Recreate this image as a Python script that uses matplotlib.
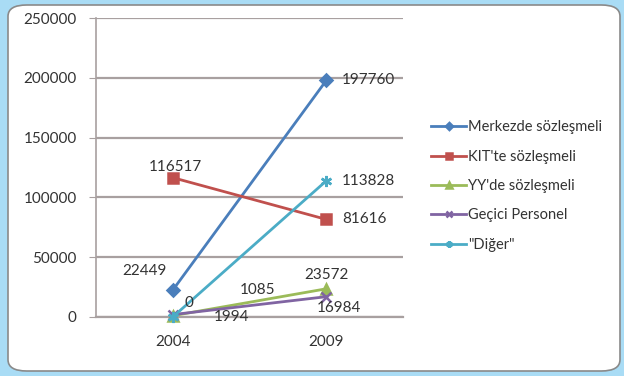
import matplotlib.pyplot as plt
from matplotlib.patches import FancyBboxPatch

# data
years = ["2004", "2009"]
series_names = ["Merkezde sözleşmeli", "KIT'te sözleşmeli", "YY'de sözleşmeli",
                "Geçici Personel", "\"Diğer\""]
merkez = [22449, 197760]
kit = [116517, 81616]
yy = [1085, 23572]
gecici = [1994, 16984]
diger = [0, 113828]

colors = ["#4a7ebb", "#c0504d", "#9bbb59", "#8064a2", "#4bacc6"]
markers = ["D", "s", "^", "x", (6, 2, 0)]
msizes = [6, 7, 7, 7, 8]
# label offsets in pixels (dx, dy) per point, plus horizontal alignment
label_pos = [
    [(-28, 19, "center"), (16, 0, "left")],
    [(3, 11, "center"), (16, 0, "left")],
    [(85, 26, "center"), (0, 14, "center")],
    [(59, -2, "center"), (13, -11, "center")],
    [(16, 14, "center"), (16, 0, "left")],
]

plt.rcParams["font.family"] = ["Lato", "DejaVu Sans"]
fig = plt.figure(figsize=(6.24, 3.76), dpi=100)
fig.patch.set_facecolor("#a9dcf5")
panel = FancyBboxPatch((8 / 624, 5 / 376), 612 / 624, 366 / 376,
                       boxstyle="round,pad=0,rounding_size=0.03",
                       transform=fig.transFigure, facecolor="white",
                       edgecolor="#8a8a8a", lw=1.2, zorder=-5)
fig.patches.append(panel)

ax = fig.add_axes([96 / 624, 59 / 376, 307 / 624, 299 / 376])
ax.set_facecolor("none")
x = range(len(years))
all_series = [merkez, kit, yy, gecici, diger]
for vals, name, c, m, ms, lp in zip(all_series, series_names, colors, markers, msizes, label_pos):
    ax.plot(x, vals, color=c, lw=2.0, marker=m, ms=ms, mew=1.8, label=name,
            clip_on=False, zorder=3)
    for xi, v, (dx, dy, ha) in zip(x, vals, lp):
        ax.annotate(str(v), (xi, v), xytext=(dx, dy), textcoords="offset pixels",
                    ha=ha, va="center", fontsize=11, color="#333333", zorder=4)

ax.set_xlim(-0.5, 1.5)
ax.set_ylim(0, 250000)
ax.set_yticks(range(0, 250001, 50000))
ax.set_xticks(list(x))
ax.set_xticklabels(years)
ax.grid(axis="y", color="#a8a0a0", lw=1.6)
ax.set_axisbelow(True)
for s in ["top", "right"]:
    ax.spines[s].set_visible(False)
ax.spines["left"].set_color("#a8a0a0")
ax.spines["bottom"].set_color("#a8a0a0")
ax.spines["left"].set_linewidth(1.2)
ax.spines["bottom"].set_linewidth(1.6)
ax.tick_params(axis="y", length=5, color="#a8a0a0", labelsize=11,
               labelcolor="#333333", pad=9)
ax.tick_params(axis="x", length=0, labelsize=11, labelcolor="#333333", pad=13)

fig.legend(loc="center left", bbox_to_anchor=(418 / 624, 1 - 186 / 376),
           frameon=False, fontsize=10.5, handlelength=2.4, handletextpad=0.15,
           labelspacing=1.05, labelcolor="#333333", markerscale=0.6)

fig.savefig("out.png", dpi=100, facecolor=fig.get_facecolor())
